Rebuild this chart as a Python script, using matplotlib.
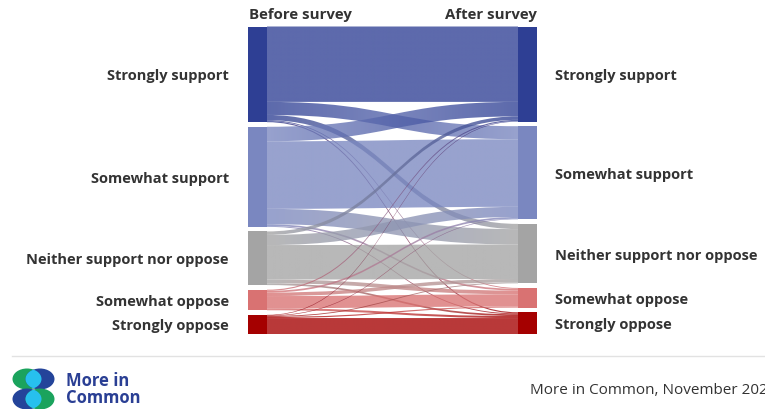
import numpy as np
import matplotlib.pyplot as plt
from matplotlib.path import Path
from matplotlib.patches import PathPatch, Rectangle, Ellipse
from matplotlib.colors import to_rgb

plt.rcParams['font.family'] = ['Open Sans', 'DejaVu Sans']

# categories (same for before and after)
categories = ['Strongly support', 'Somewhat support', 'Neither support nor oppose',
              'Somewhat oppose', 'Strongly oppose']

# flows in % of respondents: where each "before" group ended up "after"
# order of targets = categories
from_strongly_support = [26.0, 4.5, 1.8, 0.3, 0.4]
from_somewhat_support = [5.0, 23.3, 5.3, 0.6, 0.3]
from_neither = [1.2, 3.5, 11.9, 1.3, 0.6]
from_somewhat_oppose = [0.4, 0.6, 1.2, 4.2, 0.7]
from_strongly_oppose = [0.2, 0.2, 0.3, 0.4, 5.5]

node_colors = ['#2e3f94', '#7a87c0', '#a4a4a4', '#d97272', '#a50000']
link_alpha = 0.78

flows = np.array([from_strongly_support, from_somewhat_support, from_neither,
                  from_somewhat_oppose, from_strongly_oppose])
before_tot = flows.sum(axis=1)
after_tot = flows.sum(axis=0)

# layout in pixels (figure is 765 x 410)
W, H = 765, 410
fig = plt.figure(figsize=(W / 100, H / 100), dpi=100)
ax = fig.add_axes([0, 0, 1, 1])
ax.set_xlim(0, W)
ax.set_ylim(H, 0)
ax.axis('off')

top, bottom, gap = 27.5, 335, 4.6
lx0, lx1 = 248, 267
rx0, rx1 = 518, 537
k = (bottom - top - gap * (len(categories) - 1)) / max(before_tot.sum(), after_tot.sum())


def node_tops(totals):
    ys = []
    y = top
    for t in totals:
        ys.append(y)
        y += t * k + gap
    return np.array(ys)


left_y = node_tops(before_tot)
right_y = node_tops(after_tot)

# stacking offsets of links inside nodes
src_off = left_y.copy()
tgt_start = np.zeros_like(flows)
t_off = right_y.copy()
for i in range(len(categories)):
    for j in range(len(categories)):
        tgt_start[i, j] = t_off[j]
        t_off[j] += flows[i, j] * k


def link_rgba(c):
    r, g, b = to_rgb(c)
    return np.array([r, g, b, link_alpha])


for i in range(len(categories)):
    for j in range(len(categories)):
        h = flows[i, j] * k
        if h <= 0:
            continue
        s0 = src_off[i]
        src_off[i] += h
        t0 = tgt_start[i, j]
        xm = (lx1 + rx0) / 2
        verts = [(lx1, s0), (xm, s0), (xm, t0), (rx0, t0),
                 (rx0, t0 + h), (xm, t0 + h), (xm, s0 + h), (lx1, s0 + h),
                 (lx1, s0)]
        codes = [Path.MOVETO, Path.CURVE4, Path.CURVE4, Path.CURVE4,
                 Path.LINETO, Path.CURVE4, Path.CURVE4, Path.CURVE4,
                 Path.CLOSEPOLY]
        patch = PathPatch(Path(verts, codes), facecolor='none', edgecolor='none')
        ax.add_patch(patch)
        # colour fades from source node colour to target node colour
        c0, c1 = link_rgba(node_colors[i]), link_rgba(node_colors[j])
        tt = np.linspace(0, 1, 256)[:, None]
        grad = (c0 * (1 - tt) + c1 * tt)[None, :, :]
        ymin, ymax = min(s0, t0) - 1, max(s0, t0) + h + 1
        im = ax.imshow(grad, extent=[lx1, rx0, ymax, ymin], aspect='auto',
                       interpolation='bilinear', zorder=1)
        im.set_clip_path(patch)

# nodes
for i, cat in enumerate(categories):
    ax.add_patch(Rectangle((lx0, left_y[i]), lx1 - lx0, before_tot[i] * k,
                           facecolor=node_colors[i], edgecolor='none', zorder=3))
    ax.add_patch(Rectangle((rx0, right_y[i]), rx1 - rx0, after_tot[i] * k,
                           facecolor=node_colors[i], edgecolor='none', zorder=3))
    ax.text(229, left_y[i] + before_tot[i] * k / 2 + 1, cat, ha='right', va='center',
            fontsize=10.5, fontweight='bold', color='#333333')
    ax.text(555, right_y[i] + after_tot[i] * k / 2 + 1, cat, ha='left', va='center',
            fontsize=10.5, fontweight='bold', color='#333333')

ax.text(249, 15, 'Before survey', ha='left', va='center', fontsize=10.8,
        fontweight='bold', color='#333333')
ax.text(537, 15, 'After survey', ha='right', va='center', fontsize=10.8,
        fontweight='bold', color='#333333')

# footer
ax.plot([12, W], [357, 357], color='#e2e2e2', lw=1)

green, blue, cyan = '#1ba35d', '#24449a', '#27c0ee'
logo = [((27, 380), green, (40, 380)), ((40, 380), blue, (27, 380)),
        ((27, 400), blue, (40, 400)), ((40, 400), green, (27, 400))]
for (cx, cy), col, _ in logo:
    ax.add_patch(Ellipse((cx, cy), 29, 21, facecolor=col, edgecolor='none', zorder=4))
for (cx, cy), col, (ox, oy) in logo[::2]:
    e_clip = Ellipse((ox, oy), 29, 21, facecolor='none', edgecolor='none')
    ax.add_patch(e_clip)
    lens = Ellipse((cx, cy), 29, 21, facecolor=cyan, edgecolor='none', zorder=5)
    ax.add_patch(lens)
    lens.set_clip_path(e_clip)

ax.text(66, 381.5, 'More in', ha='left', va='center', fontsize=12,
        fontweight='bold', color='#2a3f94')
ax.text(66, 398.5, 'Common', ha='left', va='center', fontsize=12,
        fontweight='bold', color='#2a3f94')
# the source line runs off the right edge in the original as well
ax.text(530, 391, 'More in Common, November 2024', ha='left', va='center',
        fontsize=11, color='#333333')

fig.savefig('out.png', dpi=100)
